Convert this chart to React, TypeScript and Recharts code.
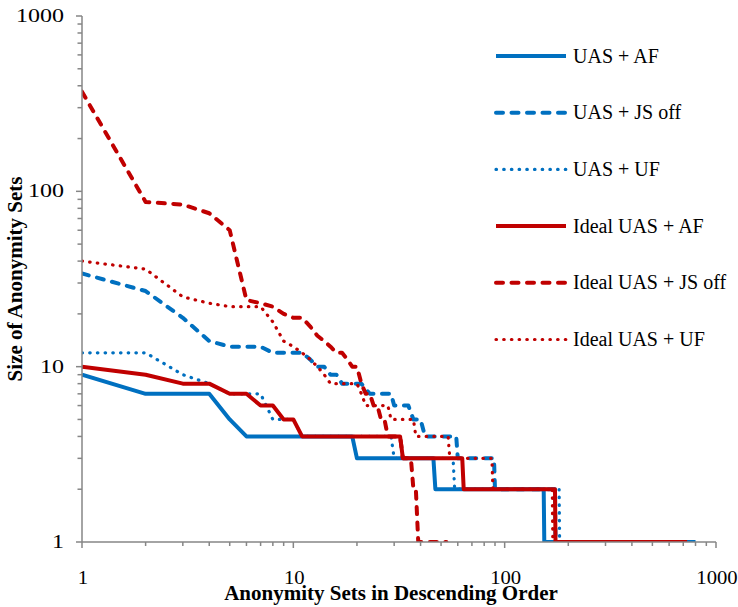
import React from 'react';
import { LineChart, Line, XAxis, YAxis, Legend } from 'recharts';

const BLUE = '#0070C0';
const RED = '#C00000';
const AXIS_GRAY = '#868686';
const FONT = '"Liberation Serif", "Times New Roman", serif';

// [rank, size] pairs: anonymity sets sorted by size, points where the size changes
const uasAf = [[1, 9], [2, 7], [4, 7], [5, 5], [6, 4], [19, 4], [20, 3], [46, 3], [47, 2], [153, 2], [154, 1], [800, 1]];
const uasJsOff = [[1, 34], [2, 27], [3, 19], [4, 14], [5, 13], [7, 13], [8, 12], [11, 12], [12, 11], [13, 10], [14, 10], [15, 9], [16, 9], [17, 8], [21, 8], [23, 7], [29, 7], [30, 6], [35, 6], [37, 5], [40, 5], [42, 4], [59, 4], [60, 3], [89, 3], [90, 2], [173, 2], [174, 1], [700, 1]];
const uasUf = [[1, 12], [2, 12], [3, 9], [4, 8], [5, 7], [7, 7], [8, 5], [10, 5], [11, 4], [29, 4], [30, 3], [57, 3], [58, 2], [181, 2], [182, 1], [500, 1]];
const idealAf = [[1, 10], [2, 9], [3, 8], [4, 8], [5, 7], [6, 7], [7, 6], [8, 6], [9, 5], [10, 5], [11, 4], [32, 4], [33, 3], [63, 3], [64, 2], [173, 2], [174, 1], [730, 1]];
const idealJsOff = [[1, 370], [2, 87], [3, 84], [4, 75], [5, 60], [6, 24], [7, 23], [8, 22], [9, 20], [10, 19], [11, 19], [12, 17], [13, 15], [14, 14], [15, 13], [16, 12], [17, 12], [18, 11], [19, 10], [20, 10], [21, 8], [22, 7], [23, 7], [24, 6], [25, 6], [26, 5], [27, 5], [28, 4], [32, 4], [33, 3], [36, 3], [37, 2], [38, 2], [39, 1], [53, 1]];
const idealUf = [[1, 40], [2, 36], [3, 25], [4, 23], [5, 22], [7, 22], [8, 18], [9, 14], [10, 13], [11, 12], [12, 11], [13, 10], [14, 9], [15, 8], [20, 8], [21, 7], [22, 6], [28, 6], [29, 5], [37, 5], [38, 4], [54, 4], [55, 3], [87, 3], [88, 2], [168, 2], [169, 1], [400, 1]];

const majorTicks = [1, 10, 100, 1000];
const logTicks = [1, 2, 3, 4, 5, 6, 7, 8, 9, 10, 20, 30, 40, 50, 60, 70, 80, 90, 100, 200, 300, 400, 500, 600, 700, 800, 900, 1000];

const toPoints = (pairs: number[][]) => pairs.map(([x, y]) => ({ x, y }));

const series = [
  { name: 'UAS + AF', data: toPoints(uasAf), color: BLUE, width: 4, dash: undefined, cap: 'butt' },
  { name: 'UAS + JS off', data: toPoints(uasJsOff), color: BLUE, width: 4, dash: '7 8.5', cap: 'round' },
  { name: 'UAS + UF', data: toPoints(uasUf), color: BLUE, width: 3.2, dash: '0.5 7.2', cap: 'round' },
  { name: 'Ideal UAS + AF', data: toPoints(idealAf), color: RED, width: 4, dash: undefined, cap: 'butt' },
  { name: 'Ideal UAS + JS off', data: toPoints(idealJsOff), color: RED, width: 4, dash: '7 8.5', cap: 'round' },
  { name: 'Ideal UAS + UF', data: toPoints(idealUf), color: RED, width: 3.2, dash: '0.5 7.2', cap: 'round' },
];

const XTick = (props: any) => {
  const { x, y, payload } = props;
  const major = majorTicks.includes(payload.value);
  return (
    <g>
      <line x1={x} x2={x} y1={y} y2={y + (major ? 6 : 4)} stroke={AXIS_GRAY} strokeWidth={1.5} />
      {major && (
        <text transform={`translate(${x + 1},${y + 42}) scale(1.12,1)`} textAnchor="middle" fontFamily={FONT} fontSize={18.5} fill="#000">
          {payload.value}
        </text>
      )}
    </g>
  );
};

const YTick = (props: any) => {
  const { x, y, payload } = props;
  const major = majorTicks.includes(payload.value);
  return (
    <g>
      <line x1={x - (major ? 6 : 4.5)} x2={x} y1={y} y2={y} stroke={AXIS_GRAY} strokeWidth={1.5} />
      {major && (
        <text transform={`translate(${x - 18},${y + 6}) scale(1.3,1)`} textAnchor="end" fontFamily={FONT} fontSize={18.5} fill="#000">
          {payload.value}
        </text>
      )}
    </g>
  );
};

const XTitle = ({ viewBox }: any) => (
  <text x={viewBox.x + viewBox.width / 2 - 8} y={viewBox.y + 58} textAnchor="middle" fontFamily={FONT} fontSize={21} fontWeight="bold" fill="#000">
    Anonymity Sets in Descending Order
  </text>
);

const YTitle = ({ viewBox }: any) => {
  const cy = viewBox.y + viewBox.height / 2;
  return (
    <text x={22} y={cy} transform={`rotate(-90, 22, ${cy})`} textAnchor="middle" fontFamily={FONT} fontSize={21} fontWeight="bold" fill="#000">
      Size of Anonymity Sets
    </text>
  );
};

const LegendBox = () => (
  <svg width={244} height={320} style={{ display: 'block' }}>
    {series.map((s, i) => (
      <g key={s.name} transform={`translate(0, ${12 + i * 56.7})`}>
        <line x1={2} x2={72} y1={0} y2={0} stroke={s.color} strokeWidth={s.width} strokeDasharray={s.dash} strokeLinecap={s.cap as any} />
        <text x={79} y={6.5} fontFamily={FONT} fontSize={20} fill="#000">
          {s.name}
        </text>
      </g>
    ))}
  </svg>
);

export default function App() {
  return (
    <div style={{ position: 'absolute', left: 0, top: 0, background: '#fff' }}>
      <LineChart width={738} height={607} margin={{ top: 16, right: 22, bottom: 0, left: 0 }}>
        <XAxis
          type="number"
          dataKey="x"
          scale="log"
          domain={[1, 1000]}
          ticks={logTicks}
          interval={0}
          allowDataOverflow
          height={65}
          tickSize={0}
          tickMargin={0}
          tickLine={false}
          tick={<XTick />}
          axisLine={{ stroke: AXIS_GRAY, strokeWidth: 1.5 }}
          label={<XTitle />}
        />
        <YAxis
          type="number"
          scale="log"
          domain={[1, 1000]}
          ticks={logTicks}
          interval={0}
          allowDataOverflow
          width={82}
          tickSize={0}
          tickMargin={0}
          tickLine={false}
          tick={<YTick />}
          axisLine={{ stroke: AXIS_GRAY, strokeWidth: 1.5 }}
          label={<YTitle />}
        />
        <Legend
          layout="vertical"
          align="center"
          verticalAlign="middle"
          content={<LegendBox />}
          wrapperStyle={{ left: 494, top: 44, width: 244, height: 320 }}
        />
        {series.map((s) => (
          <Line
            key={s.name}
            name={s.name}
            data={s.data}
            dataKey="y"
            type="linear"
            stroke={s.color}
            strokeWidth={s.width}
            strokeDasharray={s.dash}
            strokeLinecap={s.cap as any}
            strokeLinejoin="round"
            dot={false}
            activeDot={false}
            isAnimationActive={false}
          />
        ))}
      </LineChart>
    </div>
  );
}
